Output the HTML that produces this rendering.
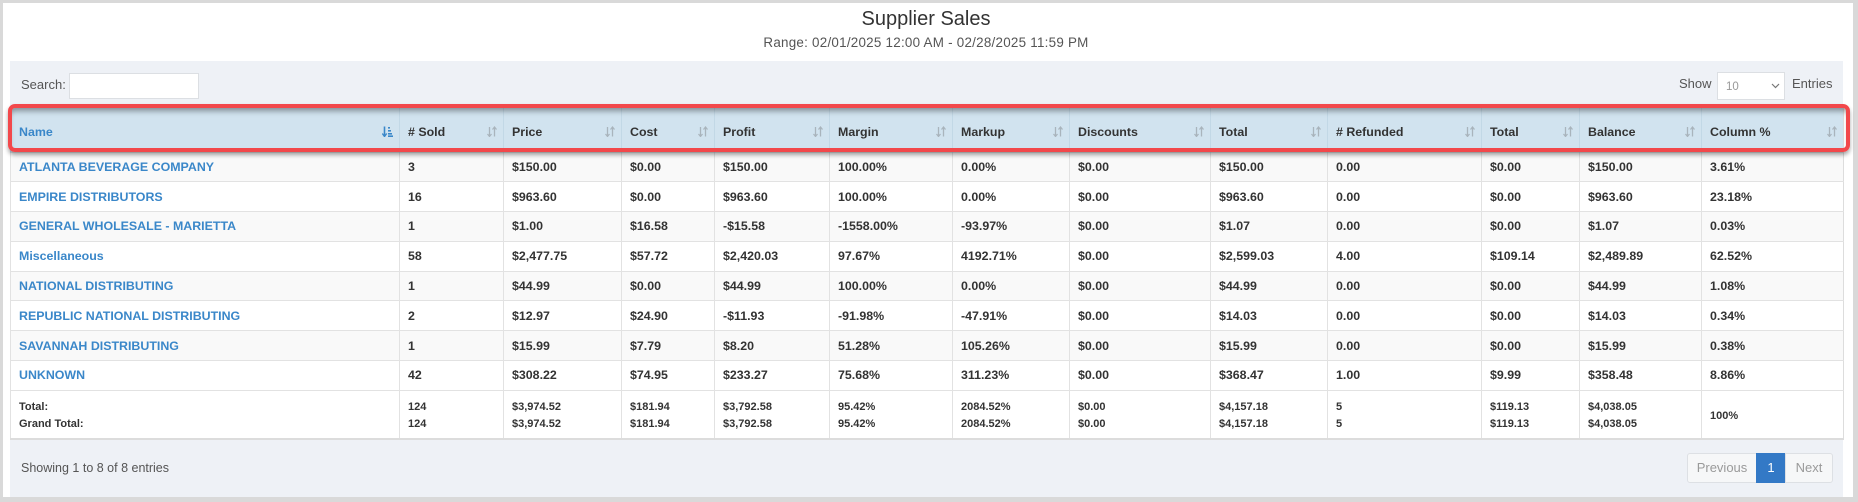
<!DOCTYPE html>
<html><head><meta charset="utf-8">
<style>
*{margin:0;padding:0;box-sizing:border-box}
html,body{width:1858px;height:502px;overflow:hidden;background:#d9d9d9;font-family:"Liberation Sans",Arial,sans-serif}
#card{position:absolute;left:3px;top:3px;width:1850px;height:494px;background:#fff}
.title{position:absolute;left:0;width:1852px;top:7px;text-align:center;font-size:20px;line-height:24px;color:#333}
.range{position:absolute;left:0;width:1852px;top:34px;text-align:center;font-size:13.4px;letter-spacing:0.25px;line-height:18px;color:#555}
#panel{position:absolute;left:10px;top:61px;width:1833px;height:436px;background:#eef1f6}
.lbl{position:absolute;font-size:13px;color:#555;line-height:16px}
.inp{position:absolute;background:#fff;border:1px solid #dcdfe3}
table{position:absolute;left:10px;top:108px;width:1833px;border-collapse:collapse;table-layout:fixed;background:#fff;border-left:1px solid #ddd;border-right:1px solid #ddd;border-bottom:2px solid #dcdcdc}
th,td{padding:0 0 0 8px;text-align:left;vertical-align:middle;font-weight:bold;color:#333;white-space:nowrap;overflow:hidden}
th{font-size:12.4px;background:#d1e3ef;border-left:1px solid #c2d8e6;padding-top:5px;position:relative}
th:first-child{color:#3a87c9}
td{font-size:12.4px;border-top:1px solid #e2e2e2;border-left:1px solid #e2e2e2}
thead tr{height:44px}
tbody tr{height:29.8px}
tbody tr:nth-child(odd) td{background:#f9f9f9}
tbody tr.tot td{background:#fff;font-size:11px;line-height:17px;padding-top:3px}
td a{color:#3a87c9;text-decoration:none}
.si{position:absolute;right:6px;top:18px;width:10px;height:11px}
#red{position:absolute;left:8px;top:104px;width:1842px;height:48px;border:4px solid #f2484b;border-radius:7px;box-shadow:0 3px 4px rgba(0,0,0,.35), inset 0 6px 6px -3px rgba(0,0,0,.38)}
.pg{position:absolute;top:453px;height:30px;font-size:13px;line-height:28px;text-align:center;border:1px solid #dde0e4}
</style></head><body>
<div id="card"></div>
<div class="title">Supplier Sales</div>
<div class="range">Range: 02/01/2025 12:00 AM - 02/28/2025 11:59 PM</div>
<div id="panel"></div>
<div class="lbl" style="left:21px;top:77px">Search:</div>
<div class="inp" style="left:69px;top:73px;width:130px;height:26px"></div>
<div class="lbl" style="left:1679px;top:76px">Show</div>
<div class="inp" style="left:1717px;top:72px;width:68px;height:28px"></div>
<div class="lbl" style="left:1726px;top:79px;font-size:11.5px;color:#999">10</div>
<svg style="position:absolute;left:1771px;top:83px" width="9" height="6"><polyline points="1,1 4.5,4.5 8,1" fill="none" stroke="#777" stroke-width="1.2"/></svg>
<div class="lbl" style="left:1792px;top:76px">Entries</div>

<svg width="0" height="0" style="position:absolute">
<defs>
<g id="srt"><line x1="2.5" y1="1" x2="2.5" y2="10" stroke="#a9b4bc" stroke-width="1.3"/><polyline points="0.5,8 2.5,10.5 4.5,8" fill="none" stroke="#a9b4bc" stroke-width="1.2"/><line x1="7.5" y1="1.5" x2="7.5" y2="10.5" stroke="#a9b4bc" stroke-width="1.3"/><polyline points="5.5,3.5 7.5,1 9.5,3.5" fill="none" stroke="#a9b4bc" stroke-width="1.2"/></g>
</defs></svg>

<table>
<colgroup><col style="width:389px"><col style="width:104px"><col style="width:118px"><col style="width:93px"><col style="width:115px"><col style="width:123px"><col style="width:117px"><col style="width:141px"><col style="width:117px"><col style="width:154px"><col style="width:98px"><col style="width:122px"><col style="width:142px"></colgroup>
<thead><tr>
<th>Name<svg class="si" viewBox="0 0 11 11" style="width:11px"><line x1="2.5" y1="0.5" x2="2.5" y2="10" stroke="#3a87c9" stroke-width="1.6"/><polyline points="0.3,7.5 2.5,10.5 4.7,7.5" fill="none" stroke="#3a87c9" stroke-width="1.4"/><rect x="6" y="1" width="2" height="1.6" fill="#3a87c9"/><rect x="6" y="4" width="3" height="1.6" fill="#3a87c9"/><rect x="6" y="7" width="4" height="1.6" fill="#3a87c9"/><rect x="6" y="9.4" width="5" height="1.6" fill="#3a87c9"/></svg></th>
<th># Sold<svg class="si"><use href="#srt"/></svg></th>
<th>Price<svg class="si"><use href="#srt"/></svg></th>
<th>Cost<svg class="si"><use href="#srt"/></svg></th>
<th>Profit<svg class="si"><use href="#srt"/></svg></th>
<th>Margin<svg class="si"><use href="#srt"/></svg></th>
<th>Markup<svg class="si"><use href="#srt"/></svg></th>
<th>Discounts<svg class="si"><use href="#srt"/></svg></th>
<th>Total<svg class="si"><use href="#srt"/></svg></th>
<th># Refunded<svg class="si"><use href="#srt"/></svg></th>
<th>Total<svg class="si"><use href="#srt"/></svg></th>
<th>Balance<svg class="si"><use href="#srt"/></svg></th>
<th>Column %<svg class="si"><use href="#srt"/></svg></th>
</tr></thead>
<tbody>
<tr><td><a>ATLANTA BEVERAGE COMPANY</a></td><td>3</td><td>$150.00</td><td>$0.00</td><td>$150.00</td><td>100.00%</td><td>0.00%</td><td>$0.00</td><td>$150.00</td><td>0.00</td><td>$0.00</td><td>$150.00</td><td>3.61%</td></tr>
<tr><td><a>EMPIRE DISTRIBUTORS</a></td><td>16</td><td>$963.60</td><td>$0.00</td><td>$963.60</td><td>100.00%</td><td>0.00%</td><td>$0.00</td><td>$963.60</td><td>0.00</td><td>$0.00</td><td>$963.60</td><td>23.18%</td></tr>
<tr><td><a>GENERAL WHOLESALE - MARIETTA</a></td><td>1</td><td>$1.00</td><td>$16.58</td><td>-$15.58</td><td>-1558.00%</td><td>-93.97%</td><td>$0.00</td><td>$1.07</td><td>0.00</td><td>$0.00</td><td>$1.07</td><td>0.03%</td></tr>
<tr><td><a>Miscellaneous</a></td><td>58</td><td>$2,477.75</td><td>$57.72</td><td>$2,420.03</td><td>97.67%</td><td>4192.71%</td><td>$0.00</td><td>$2,599.03</td><td>4.00</td><td>$109.14</td><td>$2,489.89</td><td>62.52%</td></tr>
<tr><td><a>NATIONAL DISTRIBUTING</a></td><td>1</td><td>$44.99</td><td>$0.00</td><td>$44.99</td><td>100.00%</td><td>0.00%</td><td>$0.00</td><td>$44.99</td><td>0.00</td><td>$0.00</td><td>$44.99</td><td>1.08%</td></tr>
<tr><td><a>REPUBLIC NATIONAL DISTRIBUTING</a></td><td>2</td><td>$12.97</td><td>$24.90</td><td>-$11.93</td><td>-91.98%</td><td>-47.91%</td><td>$0.00</td><td>$14.03</td><td>0.00</td><td>$0.00</td><td>$14.03</td><td>0.34%</td></tr>
<tr><td><a>SAVANNAH DISTRIBUTING</a></td><td>1</td><td>$15.99</td><td>$7.79</td><td>$8.20</td><td>51.28%</td><td>105.26%</td><td>$0.00</td><td>$15.99</td><td>0.00</td><td>$0.00</td><td>$15.99</td><td>0.38%</td></tr>
<tr><td><a>UNKNOWN</a></td><td>42</td><td>$308.22</td><td>$74.95</td><td>$233.27</td><td>75.68%</td><td>311.23%</td><td>$0.00</td><td>$368.47</td><td>1.00</td><td>$9.99</td><td>$358.48</td><td>8.86%</td></tr>
<tr class="tot" style="height:49px"><td>Total:<br>Grand Total:</td><td>124<br>124</td><td>$3,974.52<br>$3,974.52</td><td>$181.94<br>$181.94</td><td>$3,792.58<br>$3,792.58</td><td>95.42%<br>95.42%</td><td>2084.52%<br>2084.52%</td><td>$0.00<br>$0.00</td><td>$4,157.18<br>$4,157.18</td><td>5<br>5</td><td>$119.13<br>$119.13</td><td>$4,038.05<br>$4,038.05</td><td>100%</td></tr>
</tbody>
</table>
<div id="red"></div>

<div class="lbl" style="left:21px;top:460px;font-size:12.5px">Showing 1 to 8 of 8 entries</div>
<div class="pg" style="left:1687px;width:70px;background:#f6f7f8;color:#9a9a9a;border-radius:3px 0 0 3px">Previous</div>
<div class="pg" style="left:1756px;width:30px;background:#3379c6;border-color:#3379c6;color:#fff">1</div>
<div class="pg" style="left:1785px;width:48px;background:#f6f7f8;color:#9a9a9a;border-radius:0 3px 3px 0">Next</div>
</body></html>
